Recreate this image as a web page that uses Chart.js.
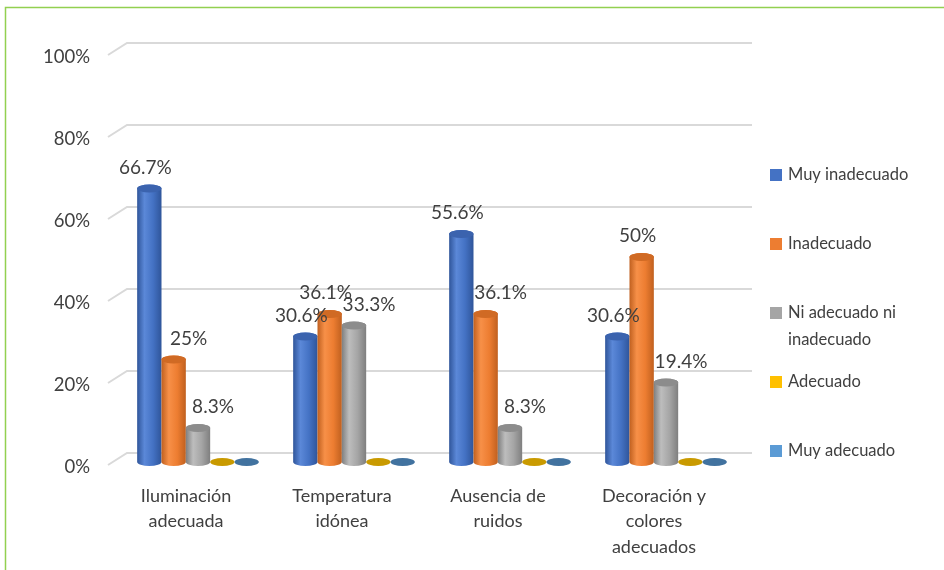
<!DOCTYPE html>
<html>
<head>
<meta charset="utf-8">
<script src="https://cdn.jsdelivr.net/npm/chart.js@4.4.0/dist/chart.umd.min.js"></script>
<style>
  html, body { margin: 0; padding: 0; background: #fff; }
  #wrap { width: 944px; height: 570px; position: relative; }
</style>
</head>
<body>
<div id="wrap"><canvas id="chart"></canvas></div>
<script>
// chart values
const categories = [['Iluminación', 'adecuada'], ['Temperatura', 'idónea'], ['Ausencia de', 'ruidos'], ['Decoración y', 'colores', 'adecuados']]
const seriesNames = ['Muy inadecuado', 'Inadecuado', ['Ni adecuado ni', 'inadecuado'], 'Adecuado', 'Muy adecuado']
const muyInadecuado = [66.7, 30.6, 55.6, 30.6]
const inadecuado = [25, 36.1, 36.1, 50]
const niAdecuado = [8.3, 33.3, 8.3, 19.4]
const adecuado = [0, 0, 0, 0]
const muyAdecuado = [0, 0, 0, 0]
const yTicks = [0, 20, 40, 60, 80, 100]

const FONT = 'Lato, "Liberation Sans", sans-serif'
const TEXT = '#404040'

const palette = [
    { base: '#4472C4', light: '#5B88D8', dark: '#2F559A', top: '#3B63AE', key: '#4472C4' },
    { base: '#ED7D31', light: '#F79048', dark: '#C0601F', top: '#D06A24', key: '#ED7D31' },
    { base: '#A5A5A5', light: '#BDBDBD', dark: '#7F7F7F', top: '#8C8C8C', key: '#A5A5A5' },
    { base: '#FFC000', light: '#FFCF40', dark: '#BF9000', top: '#C99A00', key: '#FFC000' },
    { base: '#5B9BD5', light: '#7DB1E0', dark: '#3F78AC', top: '#41729F', key: '#5B9BD5' }
]

function cylinder(ctx, x, top, base, w, c) {
    const rx = w / 2, ry = 4
    const left = x - rx
    if (base - top < 1) {
        ctx.fillStyle = c.top
        ctx.beginPath()
        ctx.ellipse(x, base, rx, ry, 0, 0, Math.PI * 2)
        ctx.fill()
        return
    }
    const g = ctx.createLinearGradient(left, 0, left + w, 0)
    g.addColorStop(0, c.dark)
    g.addColorStop(0.3, c.light)
    g.addColorStop(0.65, c.base)
    g.addColorStop(1, c.dark)
    ctx.fillStyle = g
    ctx.beginPath()
    ctx.moveTo(left, top)
    ctx.lineTo(left, base)
    ctx.ellipse(x, base, rx, ry, 0, Math.PI, 0, true)
    ctx.lineTo(left + w, top)
    ctx.ellipse(x, top, rx, ry, 0, 0, Math.PI, true)
    ctx.fill()
    ctx.fillStyle = c.top
    ctx.beginPath()
    ctx.ellipse(x, top, rx, ry, 0, 0, Math.PI * 2)
    ctx.fill()
}

const decor = {
    id: 'decor',
    beforeDraw(chart) {
        const ctx = chart.ctx
        ctx.save()
        ctx.strokeStyle = '#92D050'
        ctx.lineWidth = 1.5
        ctx.strokeRect(5.5, 7.5, 1200, 1200)
        ctx.restore()
    },
    beforeDatasetsDraw(chart) {
        const ctx = chart.ctx, area = chart.chartArea, ys = chart.scales.y
        ctx.save()
        ctx.strokeStyle = '#D9D9D9'
        ctx.lineWidth = 2
        ys.ticks.forEach(t => {
            const y = ys.getPixelForValue(t.value)
            ctx.beginPath()
            ctx.moveTo(area.left - 12, y + 3)
            ctx.lineTo(area.left + 7, y - 9)
            ctx.lineTo(area.right + 8, y - 9)
            ctx.stroke()
        })
        ctx.restore()
    },
    afterDatasetsDraw(chart) {
        const ctx = chart.ctx
        ctx.save()
        chart.data.datasets.forEach((ds, i) => {
            const meta = chart.getDatasetMeta(i)
            meta.data.forEach((bar, j) => {
                const p = bar.getProps(['x', 'y', 'base', 'width'], true)
                cylinder(ctx, p.x, p.y, p.base, p.width, palette[i])
            })
        })
        ctx.font = '19px ' + FONT
        ctx.fillStyle = TEXT
        ctx.textAlign = 'center'
        ctx.textBaseline = 'middle'
        const sets = chart.data.datasets
        sets.forEach((ds, i) => {
            const meta = chart.getDatasetMeta(i)
            meta.data.forEach((bar, j) => {
                const v = ds.data[j]
                if (!v) return
                // push the label right when the bar before it is taller
                const shift = i > 0 && sets[i - 1].data[j] > v ? 15 : -4
                ctx.fillText(v + '%', bar.x + shift, bar.y - 21)
            })
        })
        // legend
        const lx = chart.chartArea.right + 26
        ctx.font = '16.5px ' + FONT
        seriesNames.forEach((name, i) => {
            const y = 175 + i * 69
            ctx.fillStyle = palette[i].key
            ctx.fillRect(lx, y - 6, 12, 12)
            ctx.fillStyle = TEXT
            ctx.textAlign = 'left'
            const lines = Array.isArray(name) ? name : [name]
            lines.forEach((l, k) => ctx.fillText(l, lx + 18, y + k * 27))
        })
        ctx.restore()
    }
}

const seriesData = [muyInadecuado, inadecuado, niAdecuado, adecuado, muyAdecuado]

new Chart(document.getElementById('chart'), {
    type: 'bar',
    data: {
        labels: categories,
        datasets: seriesData.map((d, i) => ({
            label: Array.isArray(seriesNames[i]) ? seriesNames[i].join(' ') : seriesNames[i],
            data: d,
            backgroundColor: 'rgba(0,0,0,0)',
            borderWidth: 0,
            categoryPercentage: 0.78,
            barPercentage: 1
        }))
    },
    options: {
        responsive: true,
        maintainAspectRatio: false,
        animation: false,
        events: [],
        layout: { padding: { top: 52, right: 200, left: 0, bottom: 0 } },
        plugins: { legend: { display: false }, tooltip: { enabled: false } },
        scales: {
            x: {
                grid: { display: false, drawTicks: false },
                border: { display: false },
                ticks: { color: TEXT, font: { family: FONT, size: 18, lineHeight: 1.42 }, padding: 21, labelOffset: -12, maxRotation: 0, autoSkip: false },
                afterFit: s => { s.height = 108 }
            },
            y: {
                min: yTicks[0],
                max: yTicks[yTicks.length - 1],
                afterBuildTicks: s => { s.ticks = yTicks.map(v => ({ value: v })) },
                grid: { display: false, drawTicks: false },
                border: { display: false },
                ticks: { color: TEXT, font: { family: FONT, size: 18.5 }, padding: 30, labelOffset: 5, callback: v => v + '%' },
                afterFit: s => { s.width = 120 }
            }
        }
    },
    plugins: [decor]
})
</script>
</body>
</html>
